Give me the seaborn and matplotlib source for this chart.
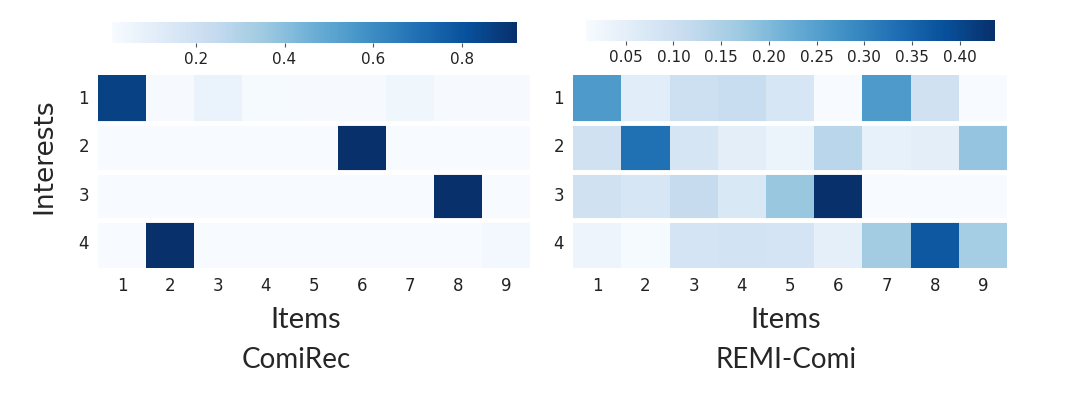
import numpy as np
import pandas as pd
import matplotlib
matplotlib.use("Agg")
import matplotlib.pyplot as plt
import seaborn as sns

items = ["1", "2", "3", "4", "5", "6", "7", "8", "9"]
interests = ["1", "2", "3", "4"]

comirec = [
    [0.86, 0.015, 0.075, 0.02, 0.015, 0.015, 0.048, 0.015, 0.015],
    [0.011, 0.011, 0.011, 0.011, 0.011, 0.924, 0.011, 0.011, 0.011],
    [0.011, 0.011, 0.011, 0.011, 0.011, 0.011, 0.011, 0.924, 0.011],
    [0.011, 0.924, 0.011, 0.011, 0.011, 0.011, 0.011, 0.011, 0.03],
]
remi = [
    [0.26, 0.055, 0.10, 0.11, 0.079, 0.008, 0.26, 0.092, 0.008],
    [0.094, 0.33, 0.081, 0.05, 0.034, 0.132, 0.042, 0.053, 0.18],
    [0.094, 0.077, 0.115, 0.072, 0.175, 0.437, 0.008, 0.008, 0.008],
    [0.031, 0.012, 0.085, 0.09, 0.085, 0.049, 0.163, 0.37, 0.16],
]
titles = ["ComiRec", "REMI-Comi"]
cbar_ticks = [[0.2, 0.4, 0.6, 0.8], [0.05, 0.10, 0.15, 0.20, 0.25, 0.30, 0.35, 0.40]]
cbar_fmt = ["%.1f", "%.2f"]

sns.set_style("white")
plt.rcParams["font.family"] = ["DejaVu Sans"]

fig = plt.figure(figsize=(10.8, 4.0), dpi=100)
ax_pos = [[0.0907, 0.33, 0.40, 0.4825], [0.5306, 0.33, 0.4019, 0.4825]]
cb_pos = [[0.1037, 0.8925, 0.375, 0.0525], [0.5423, 0.8975, 0.379, 0.0525]]
label_x = [0.48, 0.49]
title_x = [0.46, 0.49]

for i, data in enumerate([comirec, remi]):
    df = pd.DataFrame(data, index=interests, columns=items)
    ax = fig.add_axes(ax_pos[i])
    cax = fig.add_axes(cb_pos[i])
    sns.heatmap(df, ax=ax, cmap="Blues", cbar_ax=cax,
                cbar_kws={"orientation": "horizontal", "ticks": cbar_ticks[i], "format": cbar_fmt[i]})
    for r in range(1, len(interests)):
        ax.axhline(r, color="white", lw=3.5)
    ax.tick_params(axis="both", labelsize=12, colors="#555555", length=3, width=0.8, labelcolor="#222222")
    ax.tick_params(axis="y", rotation=0)
    ax.set_xlabel("Items", fontsize=21, family="Lato", labelpad=4)
    ax.xaxis.set_label_coords(label_x[i], -0.2)
    ax.text(title_x[i], -0.475, titles[i], transform=ax.transAxes, ha="center", va="center",
            fontsize=20, family="Lato")
    if i == 0:
        ax.set_ylabel("Interests", fontsize=19)
        ax.yaxis.set_label_coords(-0.093, 0.58)
    else:
        ax.set_ylabel("")
    cax.tick_params(labelsize=11, length=3, width=0.8, colors="#555555", labelcolor="#222222")
    cax.xaxis.set_ticks_position("bottom")
    for s in cax.spines.values():
        s.set_visible(False)

fig.savefig("out.png", dpi=100)
